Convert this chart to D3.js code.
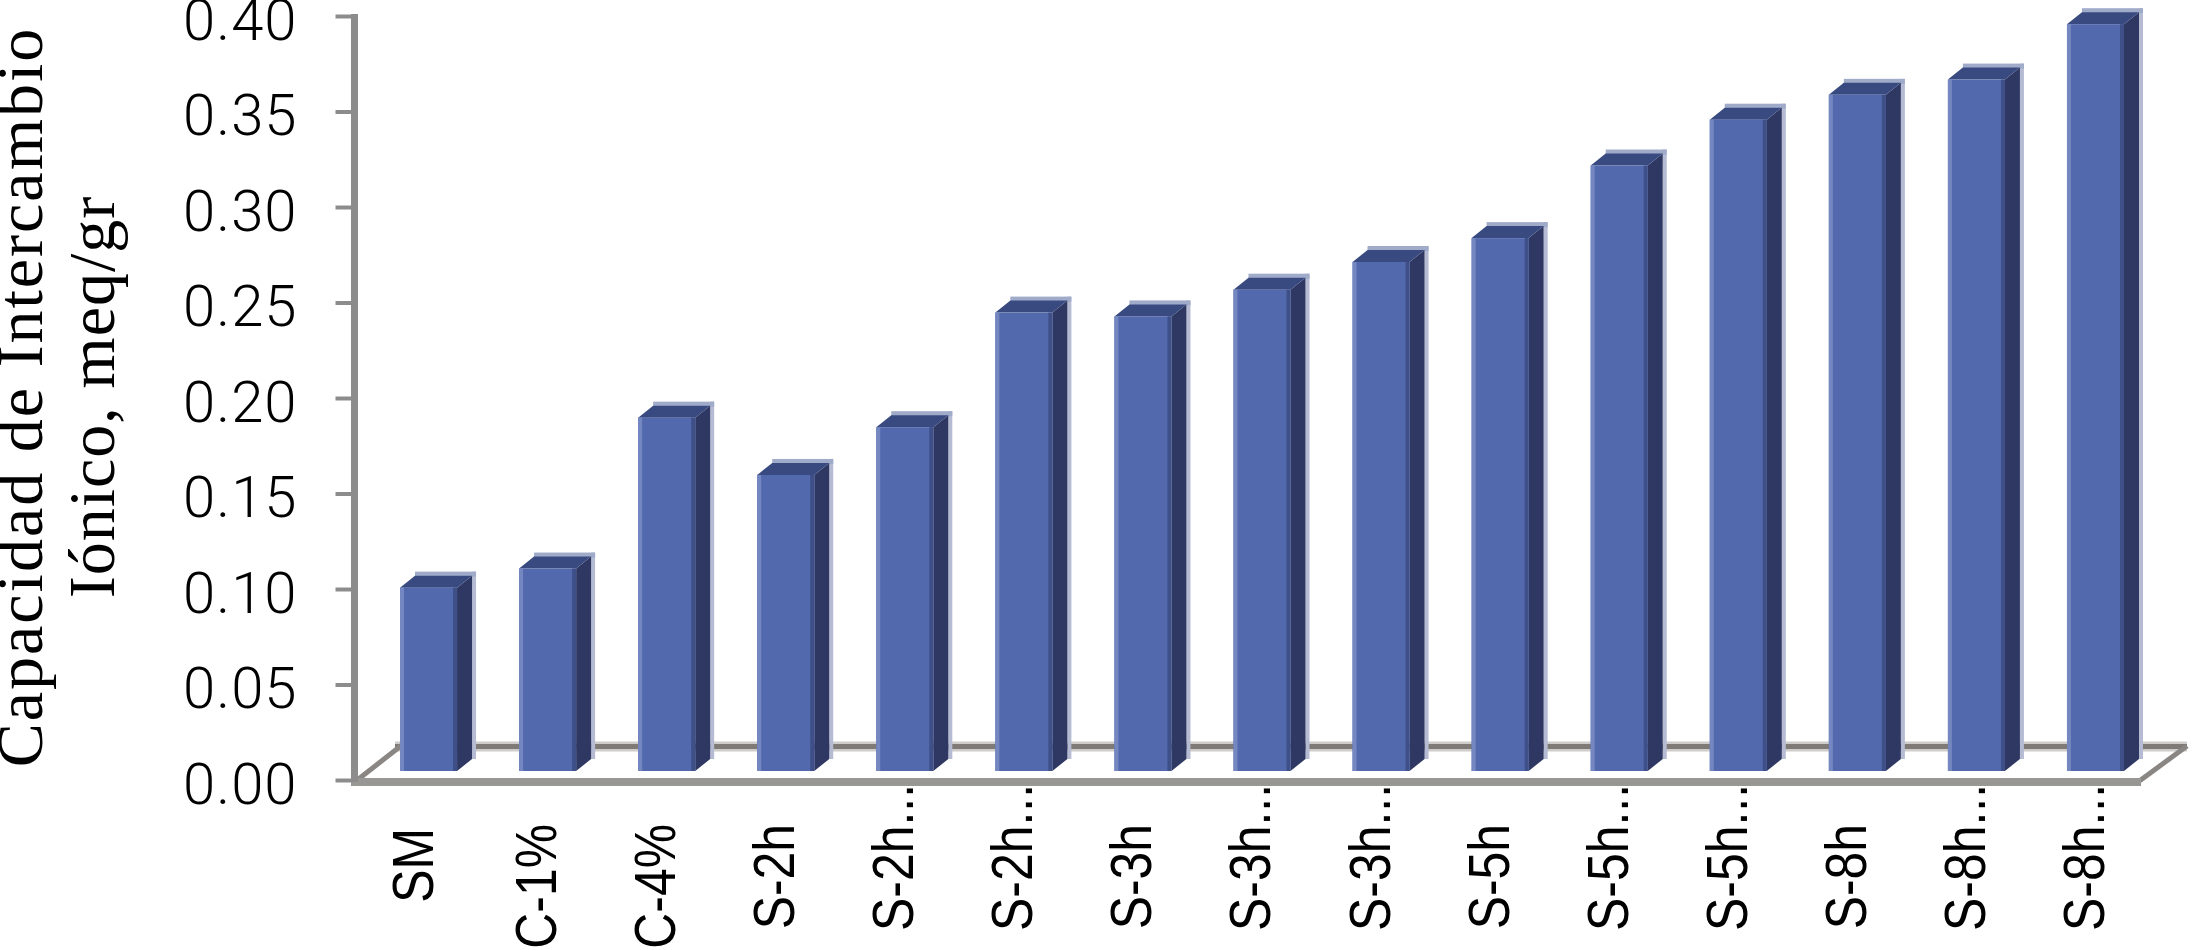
<!DOCTYPE html>
<html><head><meta charset="utf-8">
<script src="https://cdn.jsdelivr.net/npm/d3@7"></script>
<style>html,body{margin:0;padding:0;background:#fff;overflow:hidden}svg{display:block}</style>
</head><body><svg id="c" width="2193" height="950"></svg>
<script>
const categories=["SM","C-1%","C-4%","S-2h","S-2h...","S-2h...","S-3h","S-3h...","S-3h...","S-5h","S-5h...","S-5h...","S-8h","S-8h...","S-8h..."];
const values=[0.096,0.106,0.185,0.155,0.180,0.240,0.238,0.252,0.2665,0.279,0.317,0.341,0.354,0.362,0.391];
const yTicks=[0,0.05,0.10,0.15,0.20,0.25,0.30,0.35,0.40];
const titleLines=["Capacidad de Intercambio","Iónico, meq/gr"];

const svg=d3.select("#c");
const yAxisScale=d3.scaleLinear().domain([0,0.4]).range([780,16]);
const yFront=d3.scaleLinear().domain([0,0.4]).range([771,7]);
const x=d3.scaleBand().domain(d3.range(categories.length)).range([400,2124]).paddingInner(0.521).paddingOuter(0);
const bw=x.bandwidth(), dx=15, dy=12;

// floor
const floor=svg.append("g");
floor.append("line").attr("x1",395).attr("x2",2187).attr("y1",746.5).attr("y2",746.5).attr("stroke","#cfcdcb").attr("stroke-width",10);
floor.append("line").attr("x1",395).attr("x2",2187).attr("y1",746.5).attr("y2",746.5).attr("stroke","#7f7a76").attr("stroke-width",5);
floor.append("line").attr("x1",356).attr("y1",781).attr("x2",402).attr("y2",745).attr("stroke","#8a8683").attr("stroke-width",5);
floor.append("line").attr("x1",2138).attr("y1",782).attr("x2",2187).attr("y2",746).attr("stroke","#8a8683").attr("stroke-width",5);
floor.append("line").attr("x1",351).attr("x2",2141).attr("y1",782).attr("y2",782).attr("stroke","#999794").attr("stroke-width",8);

// bars
const g=svg.append("g").selectAll("g").data(values).join("g");
const X=(d,i)=>x(i), T=d=>yFront(d), B=yFront(0);
g.append("rect").attr("x",(d,i)=>X(d,i)+bw+dx).attr("y",d=>T(d)-dy-4).attr("width",4).attr("height",d=>B-T(d)+4).attr("fill","#b4bbd2");
g.append("rect").attr("x",(d,i)=>X(d,i)+dx).attr("y",d=>T(d)-dy-4).attr("width",bw+4).attr("height",5).attr("fill","#a0abca");
g.append("polygon").attr("fill","#2f3862").attr("points",function(d,i){const r=X(d,i)+bw;return [[r,T(d)],[r+dx,T(d)-dy],[r+dx,B-dy],[r,B]].join(" ")});
g.append("polygon").attr("fill","#394a80").attr("points",function(d,i){const l=X(d,i);return [[l,T(d)],[l+dx,T(d)-dy],[l+bw+dx,T(d)-dy],[l+bw,T(d)]].join(" ")});
g.append("rect").attr("x",(d,i)=>X(d,i)).attr("y",d=>T(d)).attr("width",bw).attr("height",d=>B-T(d)).attr("fill","#5369ae");
g.append("rect").attr("x",(d,i)=>X(d,i)+bw-4).attr("y",d=>T(d)).attr("width",4).attr("height",d=>B-T(d)).attr("fill","#3f4f88");
g.append("rect").attr("x",(d,i)=>X(d,i)).attr("y",d=>T(d)).attr("width",4).attr("height",d=>B-T(d)).attr("fill","#7487c0");

// y axis
const ya=svg.append("g").attr("transform","translate(354.5,0)")
 .call(d3.axisLeft(yAxisScale).tickValues(yTicks).tickFormat(d3.format(".2f")).tickSize(19).tickPadding(38));
ya.select(".domain").attr("stroke","#8c8c8c").attr("stroke-width",7).attr("d","M0,14V782");
ya.selectAll(".tick line").attr("stroke","#8c8c8c").attr("stroke-width",4);
ya.selectAll(".tick text").attr("font-family","Roboto, 'Liberation Sans', sans-serif").attr("font-weight",300)
 .attr("font-size",58).attr("fill","#000").attr("dy","0.40em").attr("letter-spacing","1px");

// category labels
svg.append("g").selectAll("text").data(categories).join("text")
 .attr("transform",(d,i)=>`translate(${x(i)+(i===0?33:37)},${d.endsWith("...")?784:(i===0?828:824)}) rotate(-90) scale(0.86,1)`)
 .attr("text-anchor","end").attr("font-family","'Liberation Sans', Arial, sans-serif")
 .attr("font-size",58).attr("fill","#000").text(d=>d);

// title
svg.append("g").selectAll("text").data(titleLines).join("text")
 .attr("transform",(d,i)=>`translate(${i===0?42:114},397) rotate(-90)`)
 .attr("text-anchor","middle").attr("font-family","'Liberation Serif', 'Times New Roman', serif")
 .attr("letter-spacing",(d,i)=>i===0?"2px":"1px")
 .attr("font-size",66).attr("fill","#000").text(d=>d);
</script></body></html>
